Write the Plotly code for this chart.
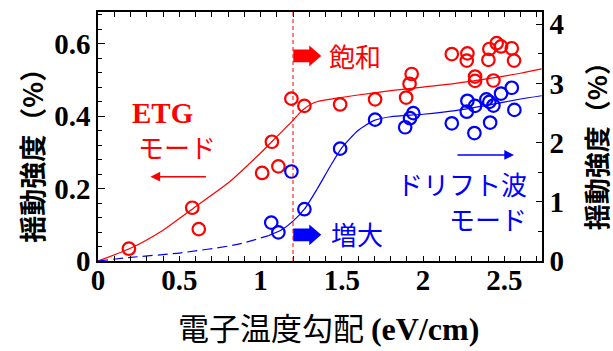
import plotly.graph_objects as go

# ---------------- data ----------------
red_x = [0.19, 0.58, 0.62, 1.01, 1.07, 1.11, 1.19, 1.27, 1.49, 1.705, 1.896, 1.917, 1.93,
         2.177, 2.273, 2.269, 2.32, 2.32, 2.402, 2.408, 2.453, 2.48, 2.433, 2.546, 2.56]
red_y = [0.034, 0.147, 0.088, 0.243, 0.329, 0.261, 0.448, 0.428, 0.432, 0.446, 0.451, 0.489, 0.516,
         0.571, 0.573, 0.553, 0.509, 0.497, 0.555, 0.585, 0.601, 0.592, 0.498, 0.587, 0.553]

blue_x = [1.066, 1.11, 1.19, 1.27, 1.49, 1.705, 1.89, 1.92, 1.94, 2.177, 2.273, 2.269, 2.32,
          2.316, 2.39, 2.408, 2.433, 2.413, 2.48, 2.546, 2.562]
blue_y = [0.106, 0.079, 0.247, 0.143, 0.31, 0.39, 0.369, 0.394, 0.408, 0.380, 0.442, 0.412, 0.428,
          0.353, 0.446, 0.439, 0.429, 0.382, 0.462, 0.478, 0.417]

red_fit_x = [0, 0.2, 0.4, 0.6, 0.8, 1.0, 1.1, 1.2, 1.25, 1.3, 1.35, 1.45, 1.6, 1.8, 2.0, 2.2, 2.4, 2.6, 2.73]
red_fit_y = [0, 0.035, 0.085, 0.15, 0.215, 0.298, 0.343, 0.388, 0.413, 0.43, 0.44, 0.448, 0.458, 0.47,
             0.48, 0.49, 0.503, 0.518, 0.53]

blue_dash_x = [0, 0.2, 0.5, 0.85, 1.05]
blue_dash_y = [0, 0.01, 0.022, 0.045, 0.07]

blue_fit_x = [1.05, 1.13, 1.2, 1.27, 1.35, 1.43, 1.5, 1.6, 1.7, 1.8, 2.0, 2.2, 2.4, 2.6, 2.73]
blue_fit_y = [0.07, 0.086, 0.11, 0.143, 0.2, 0.262, 0.312, 0.36, 0.388, 0.398, 0.405, 0.415, 0.43,
              0.447, 0.456]

threshold_x = 1.2

x_ticks = [0, 0.5, 1, 1.5, 2, 2.5]
x_tick_text = ["0", "0.5", "1", "1.5", "2", "2.5"]
y_ticks = [0, 0.2, 0.4, 0.6]
y_tick_text = ["0", "0.2", "0.4", "0.6"]
y2_ticks = [0, 1, 2, 3, 4]
y2_tick_text = ["0", "1", "2", "3", "4"]

# ---------------- layout geometry ----------------
W, H = 613, 351
L, R, T, B = 97.5, 542, 9, 261.5


def P(px, py):
    return (px - L) / (R - L), (B - py) / (B - T)


RED = "#ff0000"
BLUE = "#0000ff"
SERIF = "Liberation Serif"
JP = "Noto Sans CJK JP"

fig = go.Figure()

fig.add_trace(go.Scatter(x=red_fit_x, y=red_fit_y, mode="lines",
                         line=dict(color=RED, width=1.2, shape="spline", smoothing=0.6),
                         showlegend=False, hoverinfo="skip"))
fig.add_trace(go.Scatter(x=blue_dash_x, y=blue_dash_y, mode="lines",
                         line=dict(color=BLUE, width=1.2, dash="10px,5px", shape="spline", smoothing=0.6),
                         showlegend=False, hoverinfo="skip"))
fig.add_trace(go.Scatter(x=blue_fit_x, y=blue_fit_y, mode="lines",
                         line=dict(color=BLUE, width=1.2, shape="spline", smoothing=0.6),
                         showlegend=False, hoverinfo="skip"))
fig.add_trace(go.Scatter(x=red_x, y=red_y, mode="markers",
                         marker=dict(symbol="circle-open", size=12.5, color=RED, line=dict(width=2.2, color=RED)),
                         showlegend=False))
fig.add_trace(go.Scatter(x=blue_x, y=blue_y, mode="markers",
                         marker=dict(symbol="circle-open", size=12.5, color=BLUE, line=dict(width=2.2, color=BLUE)),
                         showlegend=False))
# secondary axis carrier
fig.add_trace(go.Scatter(x=[None], y=[None], yaxis="y2", showlegend=False))

tickfont = dict(family=SERIF, size=29, color="black", weight="bold")

fig.update_layout(
    width=W, height=H,
    margin=dict(l=L, r=W - R, t=T, b=H - B),
    paper_bgcolor="white", plot_bgcolor="white",
    xaxis=dict(range=[0, (R - L) / 162.7], tickvals=x_ticks, ticktext=x_tick_text,
               ticks="inside", ticklen=5, tickwidth=1.2, tickcolor="black",
               minor=dict(dtick=0.1, ticks="inside", ticklen=5, tickwidth=1, tickcolor="black"),
               showline=True, linecolor="black", linewidth=1.5, mirror="allticks",
               showgrid=False, zeroline=False, tickfont=tickfont, ticklabelstandoff=-8),
    yaxis=dict(range=[0, (B - T) / 367.5], tickvals=y_ticks, ticktext=y_tick_text,
               ticks="inside", ticklen=7, tickwidth=1.2, tickcolor="black",
               minor=dict(dtick=0.04, ticks="inside", ticklen=4, tickwidth=1, tickcolor="black"),
               showline=True, linecolor="black", linewidth=1.5,
               showgrid=False, zeroline=False, tickfont=tickfont),
    yaxis2=dict(range=[0, (B - T) / 60.0], overlaying="y", side="right", anchor="x",
                tickvals=y2_ticks, ticktext=y2_tick_text,
                ticks="inside", ticklen=6, tickwidth=1.2, tickcolor="black",
                minor=dict(dtick=0.5, ticks="inside", ticklen=4, tickwidth=1, tickcolor="black"),
                showline=True, linecolor="black", linewidth=1.5,
                showgrid=False, zeroline=False, tickfont=tickfont),
)

# threshold dashed line
fig.add_shape(type="line", xref="x", yref="paper", x0=threshold_x, x1=threshold_x, y0=0, y1=1,
              line=dict(color=RED, width=1, dash="4px,3px"))


def block_arrow(px0, px1, pxh, pyc, shaft_h, head_h, color):
    pts = [(px0, pyc - shaft_h / 2), (pxh, pyc - shaft_h / 2), (pxh, pyc - head_h / 2),
           (px1, pyc), (pxh, pyc + head_h / 2), (pxh, pyc + shaft_h / 2), (px0, pyc + shaft_h / 2)]
    pp = [P(a, b) for a, b in pts]
    path = "M " + " L ".join(f"{a:.5f},{b:.5f}" for a, b in pp) + " Z"
    fig.add_shape(type="path", xref="paper", yref="paper", path=path,
                  fillcolor=color, line=dict(color=color, width=0))


block_arrow(293, 321, 309, 53.5, 13, 21, RED)
block_arrow(293, 321, 309, 235, 13, 21, BLUE)


def text(px, py, s, size, color, family=JP, angle=0, weight="normal"):
    x, y = P(px, py)
    fig.add_annotation(xref="paper", yref="paper", x=x, y=y, text=s, showarrow=False,
                       textangle=angle, xanchor="center", yanchor="middle", borderpad=0,
                       font=dict(family=family, size=size, color=color, weight=weight))


def thin_arrow(px_head, px_tail, py, color):
    x, y = P(px_head, py)
    fig.add_annotation(xref="paper", yref="paper", x=x, y=y, ax=px_tail - px_head, ay=0,
                       axref="pixel", ayref="pixel", text="", showarrow=True,
                       arrowhead=2, arrowsize=1.3, arrowwidth=1.5, arrowcolor=color)


text(162, 111, "ETG", 29, RED, family=SERIF, weight="bold")
text(177, 145, "モード", 26, RED)
thin_arrow(150, 207, 176, RED)
text(355, 53, "飽和", 26, RED)
text(357, 234, "増大", 26, BLUE)
thin_arrow(514, 456, 154, BLUE)
text(462, 183, "ドリフト波", 26, BLUE)
text(488, 218, "モード", 26, BLUE)

# axis titles
text(30, 148, "揺動強度（%）", 27, "black", angle=-90, weight="bold")
text(595, 138, "揺動強度（%）", 26, "black", angle=-90, weight="bold")
text(328, 328, '電子温度勾配 <span style="font-family:Liberation Serif;font-size:32px"><b>(eV/cm)</b></span>',
     31, "black")

fig.write_html("out.html", config={"displayModeBar": False},
               post_script="document.body.style.margin='0';document.body.style.overflow='hidden';")
